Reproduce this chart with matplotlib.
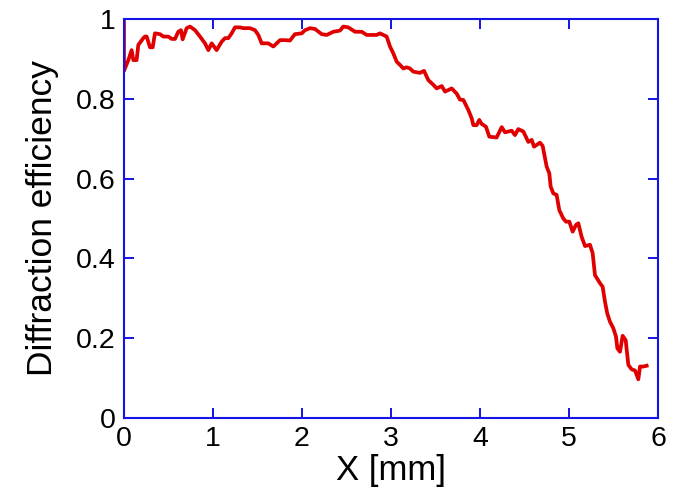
import numpy as np
import matplotlib
matplotlib.use('Agg')
import matplotlib.pyplot as plt

# values
x_mm = [0.0, 0.0, 0.049, 0.086, 0.105, 0.142, 0.161, 0.217, 0.236, 0.255, 0.292, 0.322,
        0.348, 0.404, 0.442, 0.498, 0.536, 0.573, 0.610, 0.640, 0.659, 0.704, 0.742,
        0.798, 0.854, 0.910, 0.948, 0.985, 1.041, 1.097, 1.135, 1.172, 1.210, 1.247,
        1.303, 1.341, 1.416, 1.472, 1.509, 1.547, 1.622, 1.678, 1.753, 1.809, 1.865,
        1.921, 1.997, 2.034, 2.090, 2.146, 2.221, 2.277, 2.352, 2.427, 2.464, 2.520,
        2.596, 2.671, 2.727, 2.839, 2.876, 2.951, 2.989, 3.026, 3.064, 3.101, 3.139,
        3.176, 3.213, 3.251, 3.326, 3.371, 3.419, 3.476, 3.513, 3.570, 3.607, 3.682,
        3.738, 3.775, 3.813, 3.869, 3.907, 3.925, 3.963, 3.992, 4.019, 4.067, 4.105,
        4.187, 4.244, 4.281, 4.356, 4.393, 4.430, 4.487, 4.543, 4.581, 4.607, 4.674,
        4.704, 4.749, 4.779, 4.794, 4.824, 4.861, 4.891, 4.936, 4.966, 5.004, 5.041,
        5.079, 5.105, 5.142, 5.180, 5.236, 5.266, 5.292, 5.348, 5.378, 5.404, 5.430,
        5.461, 5.498, 5.528, 5.543, 5.573, 5.603, 5.637, 5.667, 5.704, 5.742, 5.779,
        5.798, 5.836, 5.873]
efficiency = [1.0, 0.87, 0.897, 0.922, 0.897, 0.897, 0.935, 0.952, 0.956, 0.956, 0.929, 0.929,
              0.964, 0.962, 0.956, 0.956, 0.950, 0.950, 0.968, 0.972, 0.949, 0.977, 0.981,
              0.972, 0.956, 0.939, 0.922, 0.939, 0.922, 0.943, 0.952, 0.952, 0.964, 0.979,
              0.979, 0.977, 0.977, 0.972, 0.960, 0.939, 0.939, 0.931, 0.947, 0.947, 0.946,
              0.962, 0.964, 0.972, 0.977, 0.975, 0.962, 0.960, 0.968, 0.971, 0.981, 0.979,
              0.968, 0.968, 0.960, 0.960, 0.964, 0.956, 0.931, 0.914, 0.893, 0.885, 0.876,
              0.879, 0.876, 0.868, 0.865, 0.870, 0.847, 0.835, 0.826, 0.832, 0.818, 0.826,
              0.813, 0.798, 0.797, 0.772, 0.751, 0.734, 0.734, 0.747, 0.737, 0.730, 0.705,
              0.703, 0.729, 0.716, 0.720, 0.709, 0.724, 0.718, 0.692, 0.697, 0.680, 0.690,
              0.682, 0.630, 0.613, 0.580, 0.563, 0.559, 0.521, 0.500, 0.492, 0.492, 0.467,
              0.484, 0.488, 0.454, 0.431, 0.434, 0.413, 0.358, 0.338, 0.329, 0.292, 0.262,
              0.241, 0.225, 0.204, 0.175, 0.166, 0.206, 0.195, 0.133, 0.122, 0.119, 0.097,
              0.129, 0.129, 0.131]
x_ticks = [0, 1, 2, 3, 4, 5, 6]
y_ticks = [0, 0.2, 0.4, 0.6, 0.8, 1]
y_tick_labels = ['0', '0.2', '0.4', '0.6', '0.8', '1']

plt.rcParams['font.family'] = ['Liberation Sans', 'DejaVu Sans']

fig = plt.figure(figsize=(6.82, 4.92), dpi=100)
ax = fig.add_axes([0.1818, 0.1504, 0.783, 0.811])

ax.plot(x_mm, efficiency, color='#e00000', linewidth=2.7)

ax.set_xlim(0, 6)
ax.set_ylim(0, 1)
ax.set_xticks(x_ticks)
ax.set_yticks(y_ticks)
ax.set_yticklabels(y_tick_labels)

blue = '#1414e6'
for s in ax.spines.values():
    s.set_color(blue)
    s.set_linewidth(1.5)
ax.tick_params(direction='in', length=7.5, width=1.4, color=blue,
               top=True, right=True, labelsize=20.5, pad=6)

ax.set_xlabel('X [mm]', fontsize=25, labelpad=1)
ax.set_ylabel('Diffraction efficiency', fontsize=25.5, labelpad=12)

fig.savefig('out.png', dpi=100)
